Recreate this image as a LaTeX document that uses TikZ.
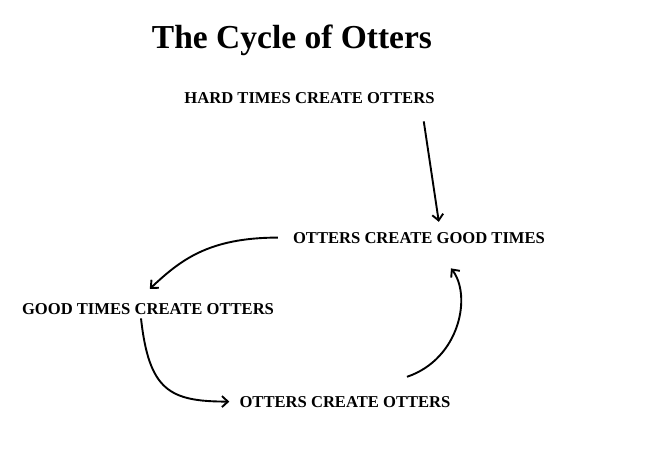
\documentclass[tikz,border=0pt]{standalone}
\usepackage{fontspec}
\setmainfont{Liberation Serif}
\usetikzlibrary{arrows.meta,calc}
\begin{document}
\begin{tikzpicture}[x=1pt,y=-1pt,
  lbl/.style={inner sep=0pt,anchor=base,font=\bfseries\fontsize{16.6}{20}\selectfont},
  ttl/.style={inner sep=0pt,anchor=base,font=\bfseries\fontsize{33.5}{40}\selectfont},
  conn/.style={line width=1.9pt,-{Straight Barb[length=6pt,width=11pt]}}]
\useasboundingbox[fill=white] (0,0) rectangle (648,467);
\node[ttl] (title) at (292,48) {The Cycle of Otters};
\node[lbl] (hard) at (309.5,103) {HARD TIMES CREATE OTTERS};
\node[lbl] (ocg) at (419,243) {OTTERS CREATE GOOD TIMES};
\node[lbl] (gto) at (148,314) {GOOD TIMES CREATE OTTERS};
\node[lbl] (oco) at (345,407) {OTTERS CREATE OTTERS};
\draw[conn] ($(hard.south east)+(-11,18)$) -- ($(ocg.north west)+(146,-10)$);
\draw[conn] ($(ocg.west)+(-15,0)$) .. controls +(-70,0) and +(30,-28) .. ($(gto.north west)+(128,-14)$);
\draw[conn] ($(gto.south)+(-7,4)$) .. controls +(8,72) and +(-60,0) .. ($(oco.west)+(-10,0)$);
\draw[conn] ($(oco.north)+(62,-19)$) .. controls +(53,-18) and +(21,27) .. ($(ocg.south)+(32,25)$);
\end{tikzpicture}
\end{document}
